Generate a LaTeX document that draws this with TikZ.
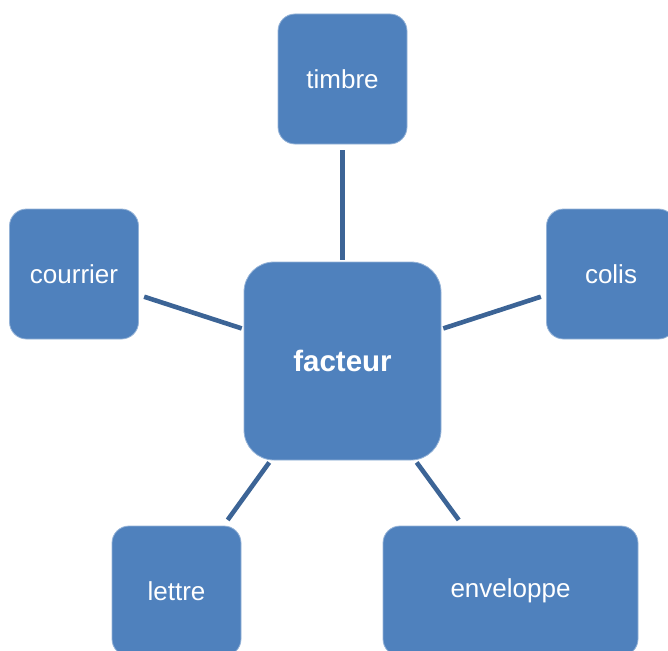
\documentclass[tikz,border=0pt]{standalone}
\usepackage{fontspec}
\setmainfont{Liberation Sans}
\definecolor{boxblue}{HTML}{4F81BD}
\definecolor{lineblue}{HTML}{3C6496}
\tikzset{
  box/.style={rectangle, fill=boxblue, draw=boxblue!60!white, line width=0.8pt,
    rounded corners=17pt, minimum width=129pt, minimum height=130pt, inner sep=0pt,
    text=white, font=\fontsize{26}{30}\selectfont},
  bigbox/.style={box, rounded corners=30pt, minimum width=197pt, minimum height=198pt,
    font=\fontsize{29.5}{34}\selectfont\bfseries},
  conn/.style={draw=lineblue, line width=4.6pt}
}
\begin{document}
\begin{tikzpicture}[x=1pt,y=-1pt]
\useasboundingbox (0,0) rectangle (668,650);
\clip (0,0) rectangle (668,650);
\node[bigbox] (f) at (342.5,361) {facteur};
\node[box] (t) at (342.5,79) {timbre};
\node[box] (c) at (74,274) {courrier};
\node[box] (o) at (611,274) {colis};
\node[box] (l) at (176.5,591) {lettre};
\node[box, minimum width=255pt] (e) at (510.5,591) {enveloppe};
\draw[conn, shorten <=2pt, shorten >=6pt] (f) -- (t);
\draw[conn, shorten <=2pt, shorten >=5.5pt] (f) -- (c);
\draw[conn, shorten <=2pt, shorten >=5.5pt] (f) -- (o);
\draw[conn, shorten <=2.5pt, shorten >=7pt] (f) -- (l);
\draw[conn, shorten <=2.5pt, shorten >=7pt] (f) -- (e);
\end{tikzpicture}
\end{document}
